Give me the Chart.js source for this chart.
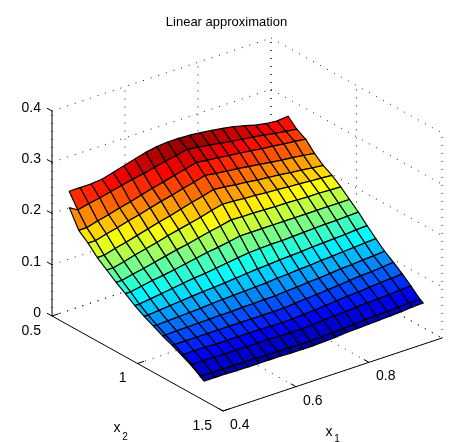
<!DOCTYPE html>
<html>
<head>
    <title>Linear approximation</title>
    <script src="https://cdn.jsdelivr.net/npm/chart.js"></script>
    <style>
body{
    margin: 0;
    background-color: #ffffff;
}
canvas{
    display: block;
}
    </style>
</head>
<body>
    <canvas id="surfaceChart" width="453" height="442"></canvas>

    <script>
        const x1Ticks = [0.4, 0.6, 0.8];
        const x2Ticks = [0.5, 1, 1.5];
        const zTicks = [0, 0.1, 0.2, 0.3, 0.4];
        const x1TickLabels = ['0.4', '0.6', '0.8'];
        const x2TickLabels = ['0.5', '1', '1.5'];
        const zTickLabels = ['0', '0.1', '0.2', '0.3', '0.4'];

        // mesh positions, the last x2 row is the thin lip along the front edge
        const x1Grid = [0.4, 0.43, 0.46, 0.49, 0.52, 0.55, 0.58, 0.61, 0.64, 0.67, 0.7, 0.73, 0.76, 0.79, 0.82, 0.85, 0.88, 0.91, 0.94, 0.97, 1.0];
        const x2Grid = [0.6, 0.651, 0.703, 0.754, 0.805, 0.857, 0.908, 0.959, 1.011, 1.062, 1.113, 1.164, 1.216, 1.267, 1.318, 1.37, 1.39];

        // extra column on the left side, missing on the first row
        const x1Edge = [null, 0.3767, 0.3782, 0.3798, 0.3813, 0.3829, 0.3845, 0.386, 0.3876, 0.3891, 0.3907, 0.3922, 0.3938, 0.3953, 0.3969, 0.3984, 0.4];
        const zEdge = [null, 0.245, 0.21, 0.194, 0.175, 0.16, 0.145, 0.132, 0.118, 0.106, 0.096, 0.086, 0.077, 0.067, 0.057, 0.044, 0.038];

        const zRows = [
            [0.262, 0.262, 0.262, 0.264, 0.270, 0.276, 0.282, 0.288, 0.292, 0.294, 0.294, 0.293, 0.291, 0.288, 0.285, 0.281, 0.276, 0.270, 0.266, 0.264, 0.266],
            [0.235, 0.240, 0.244, 0.249, 0.254, 0.259, 0.263, 0.268, 0.273, 0.277, 0.282, 0.279, 0.276, 0.272, 0.269, 0.266, 0.263, 0.260, 0.256, 0.253, 0.250],
            [0.210, 0.216, 0.221, 0.227, 0.232, 0.238, 0.244, 0.249, 0.255, 0.260, 0.266, 0.263, 0.261, 0.258, 0.256, 0.253, 0.250, 0.248, 0.245, 0.243, 0.240],
            [0.194, 0.200, 0.205, 0.211, 0.216, 0.222, 0.228, 0.233, 0.239, 0.244, 0.250, 0.247, 0.244, 0.242, 0.239, 0.236, 0.233, 0.230, 0.228, 0.225, 0.222],
            [0.175, 0.181, 0.186, 0.192, 0.198, 0.204, 0.209, 0.215, 0.221, 0.226, 0.232, 0.230, 0.227, 0.225, 0.222, 0.220, 0.218, 0.215, 0.213, 0.210, 0.208],
            [0.160, 0.165, 0.171, 0.176, 0.181, 0.187, 0.192, 0.197, 0.202, 0.208, 0.213, 0.212, 0.210, 0.209, 0.207, 0.206, 0.204, 0.203, 0.201, 0.200, 0.198],
            [0.145, 0.150, 0.154, 0.159, 0.164, 0.169, 0.173, 0.178, 0.183, 0.187, 0.192, 0.191, 0.191, 0.190, 0.189, 0.189, 0.188, 0.187, 0.187, 0.186, 0.185],
            [0.132, 0.136, 0.140, 0.143, 0.147, 0.151, 0.155, 0.159, 0.162, 0.166, 0.170, 0.170, 0.170, 0.170, 0.170, 0.170, 0.170, 0.170, 0.170, 0.170, 0.170],
            [0.118, 0.121, 0.124, 0.127, 0.130, 0.133, 0.135, 0.138, 0.141, 0.144, 0.147, 0.148, 0.149, 0.149, 0.150, 0.151, 0.152, 0.153, 0.153, 0.154, 0.155],
            [0.106, 0.108, 0.110, 0.112, 0.114, 0.116, 0.117, 0.119, 0.121, 0.123, 0.125, 0.126, 0.128, 0.129, 0.130, 0.132, 0.133, 0.134, 0.135, 0.137, 0.138],
            [0.096, 0.097, 0.098, 0.099, 0.100, 0.102, 0.103, 0.104, 0.105, 0.106, 0.107, 0.109, 0.110, 0.112, 0.113, 0.115, 0.116, 0.118, 0.119, 0.121, 0.122],
            [0.086, 0.087, 0.087, 0.088, 0.088, 0.089, 0.089, 0.090, 0.090, 0.091, 0.091, 0.093, 0.094, 0.096, 0.097, 0.099, 0.101, 0.102, 0.104, 0.105, 0.107],
            [0.077, 0.077, 0.077, 0.077, 0.077, 0.077, 0.077, 0.077, 0.077, 0.077, 0.077, 0.079, 0.081, 0.082, 0.084, 0.086, 0.088, 0.090, 0.091, 0.093, 0.095],
            [0.067, 0.067, 0.067, 0.066, 0.066, 0.066, 0.066, 0.066, 0.065, 0.065, 0.065, 0.067, 0.068, 0.070, 0.072, 0.074, 0.075, 0.077, 0.079, 0.080, 0.082],
            [0.057, 0.057, 0.057, 0.056, 0.056, 0.056, 0.056, 0.056, 0.055, 0.055, 0.055, 0.056, 0.058, 0.059, 0.060, 0.062, 0.063, 0.064, 0.065, 0.067, 0.068],
            [0.044, 0.044, 0.043, 0.043, 0.043, 0.043, 0.042, 0.042, 0.042, 0.041, 0.041, 0.042, 0.043, 0.044, 0.045, 0.047, 0.048, 0.049, 0.050, 0.051, 0.052],
            [0.038, 0.038, 0.038, 0.037, 0.037, 0.037, 0.037, 0.037, 0.036, 0.036, 0.036, 0.037, 0.038, 0.040, 0.041, 0.042, 0.043, 0.044, 0.045, 0.047, 0.048]
        ];

        const x1Lim = [0.4, 1.0];
        const x2Lim = [0.5, 1.5];
        const zLim = [0, 0.4];
        const colorLim = [0.03, 0.294];

        // view of the box on the plane of the two chart scales
        function project(x1, x2, z) {
            const a = (x1 - x1Lim[0]) / (x1Lim[1] - x1Lim[0]);
            const b = (x2 - x2Lim[0]) / (x2Lim[1] - x2Lim[0]);
            const c = (z - zLim[0]) / (zLim[1] - zLim[0]);
            return {x: 52 + 219 * a + 171 * b, y: 126 + 73 * a - 95 * b + 205 * c};
        }

        function jet(f) {
            f = Math.min(1, Math.max(0, f));
            const ch = d => Math.round(255 * Math.min(1, Math.max(0, 1.5 - Math.abs(4 * f - d))));
            return `rgb(${ch(3)},${ch(2)},${ch(1)})`;
        }

        function vertex(i, j) {
            if (i < 0) return {x1: x1Edge[j], x2: x2Grid[j], z: zEdge[j]};
            return {x1: x1Grid[i], x2: x2Grid[j], z: zRows[j][i]};
        }

        // back row first, so they get painted over by the nearer ones
        const quads = [];
        for (let j = 0; j < x2Grid.length - 1; j++) {
            for (let i = x1Grid.length - 2; i >= -1; i--) {
                if (i < 0 && j === 0) continue;
                const corners = [vertex(i, j), vertex(i + 1, j), vertex(i + 1, j + 1), vertex(i, j + 1)];
                const zMean = corners.reduce((acc, p) => acc + p.z, 0) / 4;
                const pts = corners.map(p => project(p.x1, p.x2, p.z));
                pts.push(pts[0]);
                quads.push({
                    data: pts,
                    showLine: true,
                    fill: 'shape',
                    backgroundColor: jet((zMean - colorLim[0]) / (colorLim[1] - colorLim[0])),
                    borderColor: '#000000',
                    borderWidth: 1.2,
                    pointRadius: 0,
                    tension: 0,
                    clip: false
                });
            }
        }

        function lineSet(from, to, solid) {
            return {
                data: [project(...from), project(...to)],
                showLine: true,
                fill: false,
                borderColor: '#000000',
                borderWidth: solid ? 1 : 0.9,
                borderDash: solid ? [] : [1, 7],
                pointRadius: 0,
                clip: false
            };
        }

        const x1Min = x1Lim[0], x1Max = x1Lim[1], x2Min = x2Lim[0], x2Max = x2Lim[1], zMin = zLim[0], zMax = zLim[1];
        const boxLines = [];

        // dotted grid on the floor and the two back walls
        x1Ticks.concat([x1Max]).forEach(v => {
            if (v !== x1Min) boxLines.push(lineSet([v, x2Min, zMin], [v, x2Max, zMin]));
            boxLines.push(lineSet([v, x2Min, zMin], [v, x2Min, zMax]));
        });
        x2Ticks.forEach(v => {
            if (v !== x2Max) boxLines.push(lineSet([x1Min, v, zMin], [x1Max, v, zMin]));
            boxLines.push(lineSet([x1Max, v, zMin], [x1Max, v, zMax]));
        });
        zTicks.forEach(v => {
            boxLines.push(lineSet([x1Min, x2Min, v], [x1Max, x2Min, v]));
            boxLines.push(lineSet([x1Max, x2Min, v], [x1Max, x2Max, v]));
        });

        // solid axes with their ticks
        boxLines.push(lineSet([x1Min, x2Min, zMin], [x1Min, x2Min, zMax], true));
        boxLines.push(lineSet([x1Min, x2Min, zMin], [x1Min, x2Max, zMin], true));
        boxLines.push(lineSet([x1Min, x2Max, zMin], [x1Max, x2Max, zMin], true));
        zTicks.forEach(v => boxLines.push(lineSet([x1Min, x2Min, v], [x1Min, x2Min - 0.03, v], true)));
        x2Ticks.forEach(v => boxLines.push(lineSet([x1Min, v, zMin], [x1Min + 0.018, v, zMin], true)));
        x1Ticks.forEach(v => boxLines.push(lineSet([v, x2Max, zMin], [v, x2Max - 0.03, zMin], true)));

        const axisText = {
            id: 'axisText',
            afterDraw(chart) {
                const ctx = chart.ctx;
                const place = p => ({x: chart.scales.x.getPixelForValue(p.x), y: chart.scales.y.getPixelForValue(p.y)});
                ctx.save();
                ctx.fillStyle = '#000000';
                ctx.font = '14px "Liberation Sans"';
                ctx.textBaseline = 'middle';

                ctx.textAlign = 'right';
                zTicks.forEach((v, k) => {
                    const p = place(project(x1Min, x2Min, v));
                    ctx.fillText(zTickLabels[k], p.x - 11, p.y - 3);
                });
                x2Ticks.forEach((v, k) => {
                    const p = place(project(x1Min, v, zMin));
                    ctx.fillText(x2TickLabels[k], p.x - 11, p.y + 15);
                });
                ctx.textAlign = 'left';
                x1Ticks.forEach((v, k) => {
                    const p = place(project(v, x2Max, zMin));
                    ctx.fillText(x1TickLabels[k], p.x + 7, p.y + 14);
                });

                // axis names, the subscript is a smaller second piece of text
                ctx.textAlign = 'center';
                const x2Name = place({x: 117, y: 14});
                ctx.fillText('x', x2Name.x, x2Name.y);
                const x1Name = place({x: 329, y: 10});
                ctx.fillText('x', x1Name.x, x1Name.y);
                ctx.font = '10px "Liberation Sans"';
                ctx.fillText('2', x2Name.x + 8, x2Name.y + 9);
                ctx.fillText('1', x1Name.x + 8, x1Name.y + 7);
                ctx.restore();
            }
        };

        new Chart(document.getElementById('surfaceChart'), {
            type: 'scatter',
            data: {datasets: quads.slice().reverse().concat(boxLines)},
            options: {
                responsive: false,
                animation: false,
                events: [],
                layout: {padding: 0},
                scales: {
                    x: {type: 'linear', min: 0, max: 453, display: false},
                    y: {type: 'linear', min: 0, max: 410, display: false}
                },
                plugins: {
                    legend: {display: false},
                    tooltip: {enabled: false},
                    title: {
                        display: true,
                        text: 'Linear approximation',
                        color: '#000000',
                        font: {family: '"Liberation Sans"', size: 13, weight: 'normal', lineHeight: 1.2},
                        padding: {top: 15, bottom: 1.4}
                    }
                }
            },
            plugins: [axisText]
        });
    </script>
</body>
</html>
